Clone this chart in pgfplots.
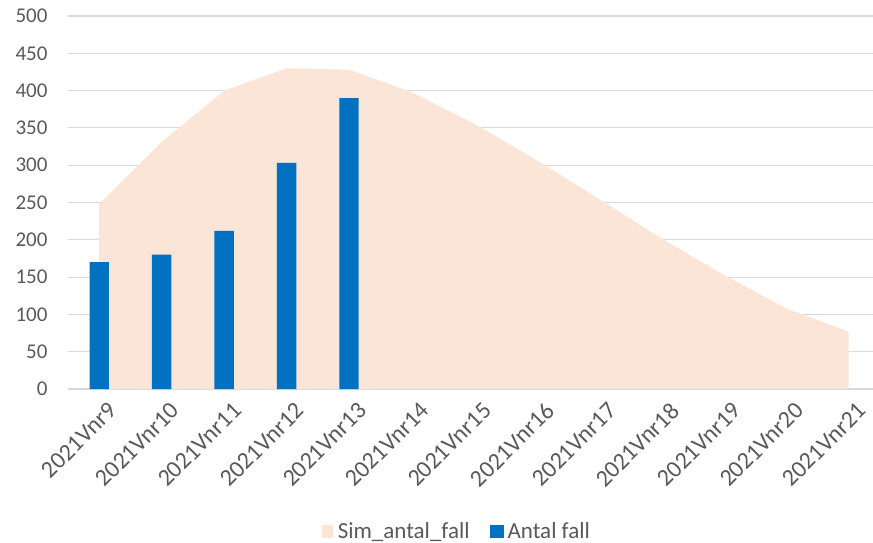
\documentclass[border=0pt]{standalone}
\usepackage{pgfplots}
\pgfplotsset{compat=1.18}
\usepackage{fontspec}
\setmainfont{Carlito}

\definecolor{simfill}{HTML}{FBE5D6}
\definecolor{barblue}{HTML}{0070C0}
\definecolor{gridgray}{HTML}{D9D9D9}
\definecolor{labgray}{HTML}{595959}

\begin{document}
\begin{tikzpicture}
  \useasboundingbox (-68bp,-154bp) rectangle (805bp,389bp);
  \begin{axis}[
      scale only axis,
      width=805bp, height=373bp,
      xmin=-0.5, xmax=12.39, ymin=0, ymax=500,
      ytick={0,50,...,500},
      xtick={0,...,12},
      xticklabels={2021Vnr9,2021Vnr10,2021Vnr11,2021Vnr12,2021Vnr13,2021Vnr14,2021Vnr15,
                   2021Vnr16,2021Vnr17,2021Vnr18,2021Vnr19,2021Vnr20,2021Vnr21},
      axis line style={draw=none},
      major tick length=0pt,
      ymajorgrids,
      grid style={gridgray, line width=1.2bp},
      /pgf/number format/assume math mode=true,
      tick label style={font=\fontsize{21bp}{21bp}\selectfont, text=labgray},
      yticklabel style={xshift=-17bp},
      xticklabel style={font=\fontsize{24bp}{24bp}\selectfont, rotate=45, anchor=north east,
                        inner sep=1bp, xshift=-2bp, yshift=-13bp},
      legend style={at={(0.483,-0.381)}, anchor=center, legend columns=2, draw=none,
                    font=\fontsize{23bp}{23bp}\selectfont, text=labgray,
                    /tikz/every even column/.append style={column sep=18bp}},
    ]
    \addplot[fill=simfill, draw=none,
      legend image code/.code={\fill[simfill] (0bp,-6.5bp) rectangle (11bp,6.5bp); \path (0bp,0bp) -- (14bp,0bp);}]
      coordinates {
      (0,248) (1,331) (2,400) (3,430) (4,428) (5,398) (6,356)
      (7,307) (8,255) (9,202) (10,153) (11,108) (12,77)
    } \closedcycle;
    \addlegendentry{Sim\_antal\_fall}
    \addplot[ybar, bar width=0.31, fill=barblue, draw=none,
      legend image code/.code={\fill[barblue] (0bp,-6.5bp) rectangle (14bp,6.5bp); \path (0bp,0bp) -- (16bp,0bp);}]
      coordinates {
      (0,170) (1,180) (2,212) (3,303) (4,390)
    };
    \addlegendentry{Antal fall}
  \end{axis}
\end{tikzpicture}
\end{document}
